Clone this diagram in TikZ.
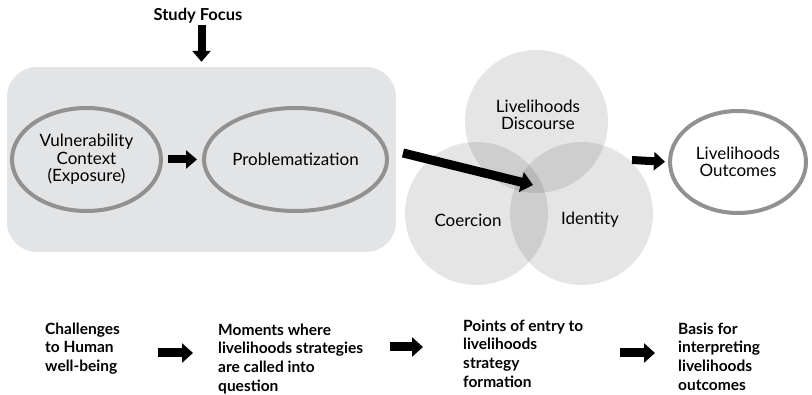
\documentclass[tikz,border=0pt]{standalone}
\usepackage{fontspec}
\setmainfont{Lato}
\usetikzlibrary{arrows.meta,shapes.geometric}
\definecolor{panelgray}{RGB}{227,228,230}
\definecolor{ringgray}{RGB}{145,145,145}
\begin{document}
\begin{tikzpicture}[x=1pt,y=-1pt,
  lab/.style={font=\fontsize{17}{17.5}\selectfont, align=center, inner sep=0},
  capt/.style={font=\bfseries\fontsize{15.5}{18.7}\selectfont, align=left, inner sep=0, anchor=north west},
  oval/.style={ellipse, draw=ringgray, line width=4pt, inner sep=0, lab},
  venn/.style={circle, fill=black, fill opacity=0.1, minimum size=143pt, inner sep=0},
  blockarrow/.style={line width=8pt, -{Triangle[width=18pt,length=11pt]}},
  bigarrow/.style={line width=9pt, -{Triangle[width=20pt,length=12pt]}}]
\useasboundingbox (0,0) rectangle (812,395);

% header and the shaded study panel
\node[font=\bfseries\fontsize{16.5}{18}\selectfont, inner sep=0] (focus) at (198,16) {Study Focus};
\node[fill=panelgray, rounded corners=30pt, minimum width=389pt, minimum height=185pt, inner sep=0] (box) at (201.5,159.5) {};
\draw[blockarrow, shorten <=1pt, shorten >=5pt] (focus.south -| box.north) -- (box.north);

% ovals inside the panel
\node[oval, minimum width=149pt, minimum height=103pt] (vul) at (86.5,159.5) {Vulnerability\\Context\\(Exposure)};
\node[oval, minimum width=183pt, minimum height=103pt] (prob) at (295.5,159.5) {Problematization};
\draw[blockarrow, shorten <=5pt, shorten >=5pt] (vul.east) -- (prob.west);

% three overlapping circles
\node[venn] (disc) at (536.5,121.5) {};
\node[venn] (coer) at (476.5,213.5) {};
\node[venn] (iden) at (581.5,213.5) {};
\node[lab] (discl) at (538,115) {Livelihoods\\Discourse};
\node[lab] (coerl) at (468,220) {Coercion};
\node[lab] (idenl) at (590,220) {Identity};

% outcome oval
\node[oval, fill=white, minimum width=136pt, minimum height=102pt] (out) at (738,162) {Livelihoods\\Outcomes};
\coordinate (vennout) at (632,160);
\draw[blockarrow, shorten >=3pt] (vennout) -- (out.west);

% arrow from the panel into the circles
\coordinate (panelexit) at (403,153);
\coordinate (core) at (533,185);
\draw[bigarrow] (panelexit) -- (core);

% bottom captions
\node[capt] (c1) at (45,322.5) {Challenges\\to Human\\well-being};
\node[capt] (c2) at (218,323.5) {Moments where\\livelihoods strategies\\are called into\\question};
\node[capt] (c3) at (463,319.5) {Points of entry to\\livelihoods\\strategy\\formation};
\node[capt] (c4) at (678,322.5) {Basis for\\interpreting\\livelihoods\\outcomes};

\coordinate (s1) at (158,353); \coordinate (e1) at (193,353);
\coordinate (s2) at (390,347); \coordinate (e2) at (423,347);
\coordinate (s3) at (620,353); \coordinate (e3) at (655,353);
\begin{scope}[blockarrow/.append style={line width=9pt, -{Triangle[width=19pt,length=11pt]}}]
\draw[blockarrow] (s1) -- (e1);
\draw[blockarrow] (s2) -- (e2);
\draw[blockarrow] (s3) -- (e3);
\end{scope}
\end{tikzpicture}
\end{document}
